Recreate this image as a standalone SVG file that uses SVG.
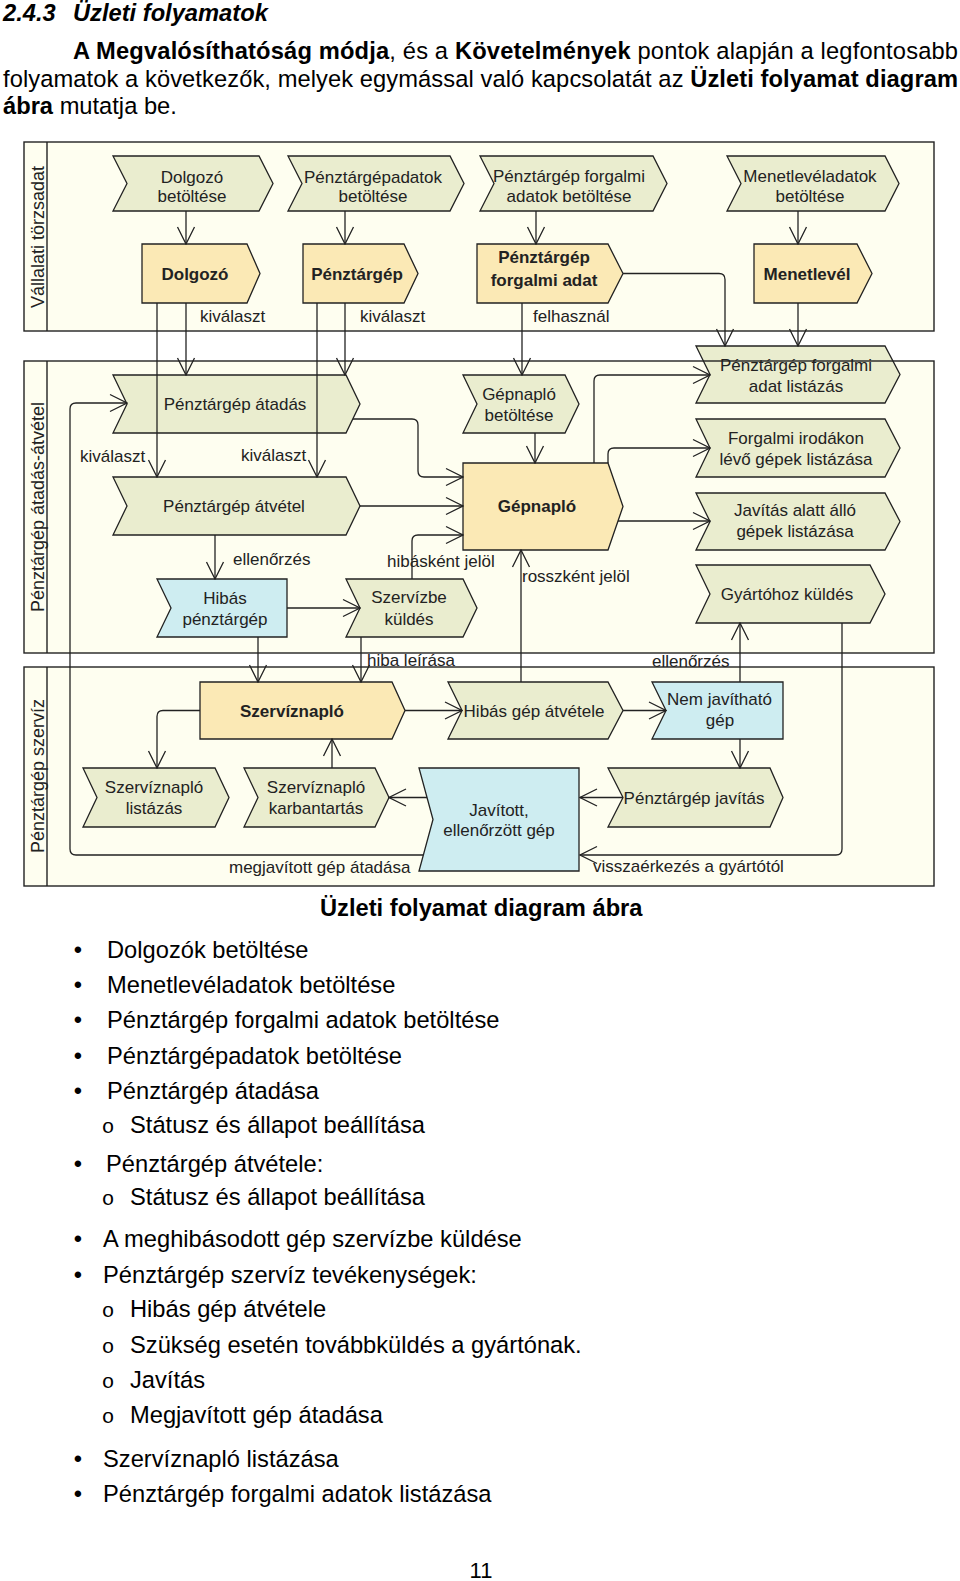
<svg xmlns="http://www.w3.org/2000/svg" width="960" height="1581" viewBox="0 0 960 1581">
<defs>
<style>
.lane{fill:#FEFEF0}
.lo{fill:none;stroke:#222;stroke-width:1.4}
.p{fill:#EAEDCF;stroke:#222;stroke-width:1.3}
.y{fill:#FBE9B5;stroke:#222;stroke-width:1.3}
.bl{fill:#CEEDF1;stroke:#222;stroke-width:1.3}
.c{fill:none;stroke:#222;stroke-width:1.3;marker-end:url(#a)}
text{font-family:"Liberation Sans",Arial,sans-serif}
.t{font-size:17px;fill:#222;text-anchor:middle}
.ln{font-size:18px;fill:#222;text-anchor:middle}
.e{font-size:17px;fill:#222}
.bd{font-weight:bold}
.pg{font-size:23.7px;fill:#000}
.bu{font-size:23.7px;fill:#000;text-anchor:middle}
.o{font-family:"Liberation Mono",monospace;font-size:21px;fill:#000;text-anchor:middle}
</style>
<marker id="a" viewBox="-19 -10 20 20" refX="0" refY="0" markerWidth="20" markerHeight="20" markerUnits="userSpaceOnUse" orient="auto"><path d="M-17,-8.5 L0,0 L-17,8.5" fill="none" stroke="#222" stroke-width="1.3"/></marker>
</defs>
<rect x="0" y="0" width="960" height="1581" fill="#fff"/>

<g id="page-text">
<text class="pg" x="3" y="21" font-weight="bold" font-style="italic">2.4.3</text>
<text class="pg" x="73" y="21" font-weight="bold" font-style="italic">Üzleti folyamatok</text>
<text class="pg" x="73" y="59" textLength="885" lengthAdjust="spacing"><tspan font-weight="bold">A Megvalósíthatóság módja</tspan>, és a <tspan font-weight="bold">Követelmények</tspan> pontok alapján a legfontosabb</text>
<text class="pg" x="3" y="87" textLength="955" lengthAdjust="spacing">folyamatok a következők, melyek egymással való kapcsolatát az <tspan font-weight="bold">Üzleti folyamat diagram</tspan></text>
<text class="pg" x="3" y="114"><tspan font-weight="bold">ábra</tspan> mutatja be.</text>
<text class="pg" x="320" y="916" font-weight="bold">Üzleti folyamat diagram ábra</text>

<text class="bu" x="78" y="958">•</text><text class="pg" x="107" y="958">Dolgozók betöltése</text>
<text class="bu" x="78" y="993">•</text><text class="pg" x="107" y="993">Menetlevéladatok betöltése</text>
<text class="bu" x="78" y="1028">•</text><text class="pg" x="107" y="1028">Pénztárgép forgalmi adatok betöltése</text>
<text class="bu" x="78" y="1064">•</text><text class="pg" x="107" y="1064">Pénztárgépadatok betöltése</text>
<text class="bu" x="78" y="1099">•</text><text class="pg" x="107" y="1099">Pénztárgép átadása</text>
<text class="o" x="108" y="1133">o</text><text class="pg" x="130" y="1133">Státusz és állapot beállítása</text>
<text class="bu" x="78" y="1172">•</text><text class="pg" x="106" y="1172">Pénztárgép átvétele:</text>
<text class="o" x="108" y="1205">o</text><text class="pg" x="130" y="1205">Státusz és állapot beállítása</text>
<text class="bu" x="78" y="1247">•</text><text class="pg" x="103" y="1247">A meghibásodott gép szervízbe küldése</text>
<text class="bu" x="78" y="1283">•</text><text class="pg" x="103" y="1283">Pénztárgép szervíz tevékenységek:</text>
<text class="o" x="108" y="1317">o</text><text class="pg" x="130" y="1317">Hibás gép átvétele</text>
<text class="o" x="108" y="1353">o</text><text class="pg" x="130" y="1353">Szükség esetén továbbküldés a gyártónak.</text>
<text class="o" x="108" y="1388">o</text><text class="pg" x="130" y="1388">Javítás</text>
<text class="o" x="108" y="1423">o</text><text class="pg" x="130" y="1423">Megjavított gép átadása</text>
<text class="bu" x="78" y="1467">•</text><text class="pg" x="103" y="1467">Szervíznapló listázása</text>
<text class="bu" x="78" y="1502">•</text><text class="pg" x="103" y="1502">Pénztárgép forgalmi adatok listázása</text>
<text x="481" y="1578" font-family="Liberation Serif,serif" font-size="22" text-anchor="middle" fill="#000">11</text>
</g>

<g id="lanes">
<rect class="lane" x="24" y="142" width="910" height="189"/>
<rect class="lane" x="24" y="361" width="910" height="292"/>
<rect class="lane" x="24" y="667" width="910" height="219"/>
<text class="ln" transform="translate(44,237) rotate(-90)">Vállalati törzsadat</text>
<text class="ln" transform="translate(44,507) rotate(-90)">Pénztárgép átadás-átvétel</text>
<text class="ln" transform="translate(44,776) rotate(-90)">Pénztárgép szervíz</text>
</g>

<g id="nodes">
<g id="n-dolgozo-betoltese"><polygon class="p" points="113,156 259,156 273,183.5 259,211 113,211 127,183.5"/><text class="t" x="192" y="183">Dolgozó</text><text class="t" x="192" y="202">betöltése</text></g>
<g id="n-penztargepadatok-betoltese"><polygon class="p" points="288,156 450,156 464,183.5 450,211 288,211 302,183.5"/><text class="t" x="373" y="183">Pénztárgépadatok</text><text class="t" x="373" y="202">betöltése</text></g>
<g id="n-forgalmi-adatok-betoltese"><polygon class="p" points="480,156 653,156 667,183.5 653,211 480,211 494,183.5"/><text class="t" x="569" y="182">Pénztárgép forgalmi</text><text class="t" x="569" y="202">adatok betöltése</text></g>
<g id="n-menetlevel-betoltese"><polygon class="p" points="727,156 885,156 899,183.5 885,211 727,211 741,183.5"/><text class="t" x="810" y="182">Menetlevéladatok</text><text class="t" x="810" y="202">betöltése</text></g>
<g id="n-dolgozo"><polygon class="y" points="142,244 247,244 260,273.5 247,303 142,303"/><text class="t bd" x="195" y="279.5">Dolgozó</text></g>
<g id="n-penztargep"><polygon class="y" points="303,244 404,244 418,273.5 404,303 303,303"/><text class="t bd" x="357" y="279.5">Pénztárgép</text></g>
<g id="n-forgalmi-adat"><polygon class="y" points="477,244 608,244 623,273.5 608,303 477,303"/><text class="t bd" x="544" y="263">Pénztárgép</text><text class="t bd" x="544" y="286">forgalmi adat</text></g>
<g id="n-menetlevel"><polygon class="y" points="754,244 857,244 872,273.5 857,303 754,303"/><text class="t bd" x="807" y="279.5">Menetlevél</text></g>

<g id="n-atadas"><polygon class="p" points="113,375 346,375 360,404 346,433 113,433 127,404"/><text class="t" x="235" y="410">Pénztárgép átadás</text></g>
<g id="n-atvetel"><polygon class="p" points="113,477 346,477 360,506 346,535 113,535 127,506"/><text class="t" x="234" y="512">Pénztárgép átvétel</text></g>
<g id="n-hibas-penztargep"><polygon class="bl" points="157,579 287,579 287,637 157,637 171,608"/><text class="t" x="225" y="604">Hibás</text><text class="t" x="225" y="625">pénztárgép</text></g>
<g id="n-szervizbe-kuldes"><polygon class="p" points="346,579 463,579 477,608 463,637 346,637 360,608"/><text class="t" x="409" y="603">Szervízbe</text><text class="t" x="409" y="625">küldés</text></g>
<g id="n-gepnaplo-betoltese"><polygon class="p" points="463,375 565,375 579,404 565,433 463,433 477,404"/><text class="t" x="519" y="400">Gépnapló</text><text class="t" x="519" y="421">betöltése</text></g>
<g id="n-gepnaplo"><polygon class="y" points="463,463 608,463 623,506.5 608,550 463,550"/><text class="t bd" x="537" y="512">Gépnapló</text></g>
<g id="n-forgalmi-listazas"><polygon class="p" points="696,346 885,346 900,374.5 885,403 696,403 710,374.5"/><text class="t" x="796" y="371">Pénztárgép forgalmi</text><text class="t" x="796" y="392">adat listázás</text></g>
<g id="n-irodak-listazasa"><polygon class="p" points="696,419 885,419 900,448 885,477 696,477 710,448"/><text class="t" x="796" y="444">Forgalmi irodákon</text><text class="t" x="796" y="465">lévő gépek listázása</text></g>
<g id="n-javitas-alatt"><polygon class="p" points="696,493 885,493 900,521.5 885,550 696,550 710,521.5"/><text class="t" x="795" y="516">Javítás alatt álló</text><text class="t" x="795" y="537">gépek listázása</text></g>
<g id="n-gyartohoz"><polygon class="p" points="696,565 870,565 885,594 870,623 696,623 710,594"/><text class="t" x="787" y="599.5">Gyártóhoz küldés</text></g>

<g id="n-szerviznaplo"><polygon class="y" points="200,682 392,682 405,710.5 392,739 200,739"/><text class="t bd" x="292" y="716.5">Szervíznapló</text></g>
<g id="n-hibas-gep-atvetele"><polygon class="p" points="448,682 608,682 623,710.5 608,739 448,739 462,710.5"/><text class="t" x="534" y="716.5">Hibás gép átvétele</text></g>
<g id="n-nem-javithato"><polygon class="bl" points="652,682 783,682 783,739 652,739 666,710.5"/><text class="t" x="719.5" y="705">Nem javítható</text><text class="t" x="720" y="726">gép</text></g>
<g id="n-szerviznaplo-listazas"><polygon class="p" points="83,768 215,768 229,797.5 215,827 83,827 97,797.5"/><text class="t" x="154" y="793">Szervíznapló</text><text class="t" x="154" y="814">listázás</text></g>
<g id="n-szerviznaplo-karbantartas"><polygon class="p" points="244,768 375,768 389,797.5 375,827 244,827 258,797.5"/><text class="t" x="316" y="793">Szervíznapló</text><text class="t" x="316" y="814">karbantartás</text></g>
<g id="n-javitott"><polygon class="bl" points="419,768 579,768 579,871 419,871 433,819.5"/><text class="t" x="499" y="816">Javított,</text><text class="t" x="499" y="836">ellenőrzött gép</text></g>
<g id="n-penztargep-javitas"><polygon class="p" points="608,768 770,768 783,797.5 770,827 608,827 623,797.5"/><text class="t" x="694" y="803.5">Pénztárgép javítás</text></g>
</g>

<g id="connectors">
<path class="c" d="M186,211 V244"/>
<path class="c" d="M345,211 V244"/>
<path class="c" d="M536,211 V244"/>
<path class="c" d="M798,211 V244"/>
<path class="c" d="M186,303 V375"/>
<path class="c" d="M157,303 V477"/>
<path class="c" d="M345,303 V375"/>
<path class="c" d="M317,303 V477"/>
<path class="c" d="M522,303 V375"/>
<path class="c" d="M623,273.5 H719 Q725,273.5 725,279.5 V346"/>
<path class="c" d="M798,303 V346"/>
<path class="c" d="M353,419 H412 Q418,419 418,425 V471 Q418,477 424,477 H463"/>
<path class="c" d="M360,506 H463"/>
<path class="c" d="M215,535 V579"/>
<path class="c" d="M412,579 V541 Q412,535 418,535 H463"/>
<path class="c" d="M535,433 V463"/>
<path class="c" d="M594,463 V381 Q594,375 600,375 H710"/>
<path class="c" d="M608,463 V454 Q608,448 614,448 H710"/>
<path class="c" d="M618,521 H710"/>
<path class="c" d="M521,682 V550"/>
<path class="c" d="M740,682 V623"/>
<path class="c" d="M842,623 V849 Q842,855 836,855 H580"/>
<path class="c" d="M287,608 H360"/>
<path class="c" d="M258,637 V682"/>
<path class="c" d="M361,637 V682"/>
<path class="c" d="M405,710.5 H462"/>
<path class="c" d="M623,710.5 H666"/>
<path class="c" d="M740,739 V768"/>
<path class="c" d="M623,797.5 H580"/>
<path class="c" d="M427,797.5 H389"/>
<path class="c" d="M332,768 V739"/>
<path class="c" d="M200,710.5 H163 Q157,710.5 157,716.5 V768"/>
<path class="c" d="M423,855 H76 Q70,855 70,849 V409 Q70,403 76,403 H127"/>
</g>

<g id="connector-labels">
<text class="e" x="200" y="322">kiválaszt</text>
<text class="e" x="360" y="322">kiválaszt</text>
<text class="e" x="533" y="322">felhasznál</text>
<text class="e" x="80" y="462">kiválaszt</text>
<text class="e" x="241" y="461">kiválaszt</text>
<text class="e" x="233" y="565">ellenőrzés</text>
<text class="e" x="387" y="566.5">hibásként jelöl</text>
<text class="e" x="522" y="581.5">rosszként jelöl</text>
<text class="e" x="367" y="666">hiba leírása</text>
<text class="e" x="652" y="666.5">ellenőrzés</text>
<text class="e" x="229" y="873">megjavított gép átadása</text>
<text class="e" x="593" y="872">visszaérkezés a gyártótól</text>
</g>

<g id="lane-outlines">
<rect class="lo" x="24" y="142" width="910" height="189"/>
<line class="lo" x1="47" y1="142" x2="47" y2="331"/>
<rect class="lo" x="24" y="361" width="910" height="292"/>
<line class="lo" x1="47" y1="361" x2="47" y2="653"/>
<rect class="lo" x="24" y="667" width="910" height="219"/>
<line class="lo" x1="47" y1="667" x2="47" y2="886"/>
</g>
</svg>
